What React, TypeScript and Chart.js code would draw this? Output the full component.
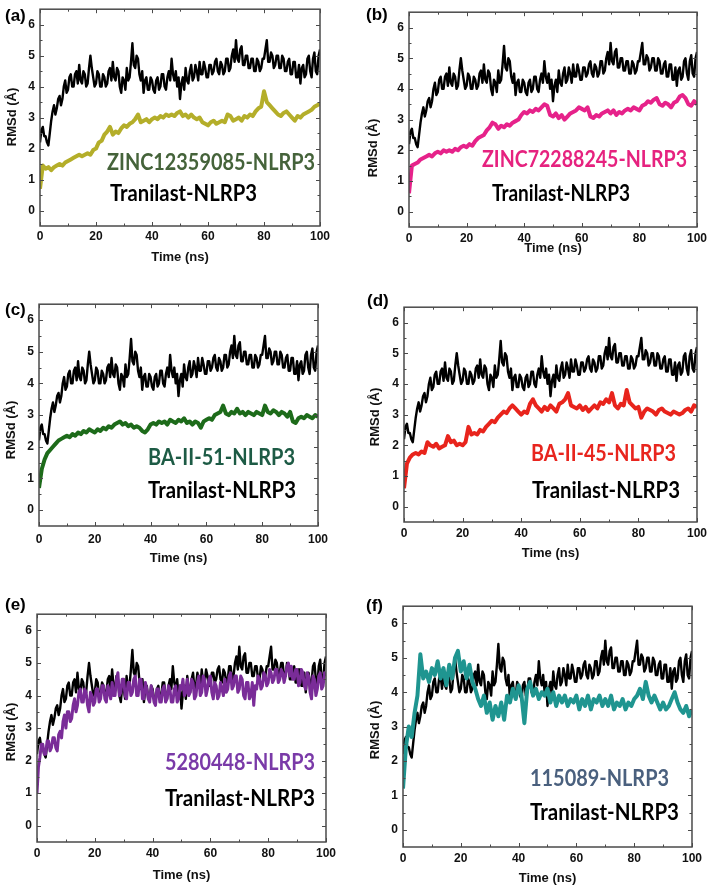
import React, { useEffect, useRef } from "react";
import { Chart, registerables } from "chart.js";
Chart.register(...registerables);

// Time axes (ns)
const TIME = Array.from({ length: 101 }, (_, i) => i);
const TIME_FINE = Array.from({ length: 201 }, (_, i) => i / 2);
const X_TICKS = [0, 20, 40, 60, 80, 100];
const Y_TICKS = [0, 1, 2, 3, 4, 5, 6];

// Tranilast-NLRP3, sampled every 0.5 ns
const TRANILAST = [
  2.2, 2.6, 2.7, 2.4, 2.4, 2.2, 2.1, 2.5, 2.9, 3.2,
  3.4, 3.1, 3.3, 3.6, 3.7, 3.4, 3.6, 4.0, 4.2, 3.8,
  3.9, 4.3, 4.4, 4.0, 4.0, 4.4, 4.5, 4.1, 4.7, 4.2,
  4.1, 4.5, 4.4, 4.0, 4.1, 4.6, 5.0, 4.6, 4.3, 4.0,
  4.1, 4.5, 4.4, 4.0, 4.0, 4.4, 4.3, 4.0, 4.1, 4.5,
  4.6, 4.2, 4.8, 4.3, 4.2, 4.6, 4.5, 4.0, 3.8, 4.3,
  4.2, 3.9, 4.6, 4.2, 4.3, 4.8, 5.4, 4.7, 4.6, 5.0,
  4.9, 4.4, 4.2, 4.5, 3.8, 4.2, 4.3, 3.9, 3.9, 4.3,
  4.2, 3.9, 3.8, 4.2, 4.3, 3.9, 4.0, 4.4, 4.4, 4.0,
  3.9, 4.3, 4.5, 4.2, 4.9, 4.4, 4.2, 4.5, 4.0, 4.3,
  3.6, 4.1, 4.3, 3.9, 4.6, 4.2, 4.1, 4.5, 4.7, 4.2,
  4.3, 4.7, 4.5, 4.2, 4.8, 4.4, 4.4, 4.8, 4.6, 4.3,
  4.3, 4.7, 4.7, 4.4, 4.5, 4.8, 4.9, 4.5, 4.4, 4.8,
  4.7, 4.4, 4.5, 4.9, 4.9, 4.5, 4.6, 5.0, 5.2, 4.8,
  5.5, 4.9, 4.8, 5.2, 5.3, 4.7, 4.7, 5.0, 5.0, 4.6,
  4.6, 4.9, 4.9, 4.5, 4.5, 4.9, 4.8, 4.5, 4.6, 4.9,
  4.9, 5.2, 5.5, 4.8, 4.8, 5.1, 5.0, 4.6, 4.7, 5.0,
  5.0, 4.6, 4.6, 5.0, 4.9, 4.5, 4.5, 4.8, 4.9, 4.4,
  4.4, 4.8, 4.8, 4.3, 4.3, 4.7, 4.1, 4.6, 4.7, 4.3,
  4.4, 4.9, 5.0, 4.5, 4.3, 4.9, 5.1, 4.5, 4.4, 5.0,
  5.2,
];

const ZINC12359085 = [
  0.7, 1.45, 1.35, 1.4, 1.3, 1.4, 1.45, 1.5, 1.45, 1.55,
  1.6, 1.65, 1.7, 1.75, 1.8, 1.75, 1.8, 1.85, 1.8, 1.95,
  2.0, 2.2, 2.25, 2.45, 2.55, 2.7, 2.45, 2.55, 2.5, 2.65,
  2.75, 2.7, 2.8, 2.85, 2.95, 3.1, 2.85, 2.9, 2.95, 2.85,
  2.95, 3.0, 2.95, 3.05, 3.0, 3.1, 3.05, 3.1, 3.05, 3.15,
  3.2, 3.05, 3.1, 3.0, 3.1, 3.0, 2.95, 3.0, 2.85, 2.8,
  2.75, 2.85, 2.9, 2.8, 2.85, 2.9, 2.85, 3.1, 3.05, 2.9,
  2.95, 3.0, 2.9, 3.05, 3.0, 3.1, 3.05, 3.2, 3.3, 3.35,
  3.85, 3.5, 3.4, 3.3, 3.2, 3.1, 3.05, 3.15, 3.2, 3.1,
  3.0, 2.9, 3.05, 3.0, 3.1, 3.15, 3.2, 3.25, 3.35, 3.4,
  3.45,
];

const ZINC72288245 = [
  0.6, 1.5, 1.55, 1.6, 1.7, 1.75, 1.8, 1.85, 1.8, 1.9,
  1.95, 1.9, 2.0, 1.95, 2.0, 1.95, 2.05, 2.0, 2.1, 2.15,
  2.1, 2.2, 2.15, 2.3, 2.4, 2.45, 2.5, 2.65, 2.75, 2.9,
  2.85, 2.7, 2.8, 2.75, 2.85, 2.8, 2.9, 2.95, 3.0, 3.15,
  3.25, 3.2, 3.3, 3.25, 3.35, 3.3, 3.4, 3.5, 3.45, 3.15,
  3.1, 3.2, 3.05, 3.15, 3.0, 3.1, 3.2, 3.25, 3.3, 3.4,
  3.35, 3.3, 3.4, 3.1, 3.05, 3.15, 3.1, 3.2, 3.25, 3.3,
  3.2, 3.3, 3.15, 3.25, 3.2, 3.3, 3.35, 3.3, 3.4, 3.35,
  3.3, 3.45, 3.5, 3.6, 3.55, 3.65, 3.7, 3.5, 3.45, 3.55,
  3.5, 3.4, 3.55, 3.6, 3.75, 3.8, 3.7, 3.5, 3.45, 3.6,
  3.5,
];

const BA_II_51 = [
  0.7, 1.3, 1.6, 1.8, 1.9, 2.0, 2.1, 2.2, 2.25, 2.3,
  2.35, 2.3, 2.4, 2.35, 2.45, 2.4, 2.5, 2.45, 2.55, 2.5,
  2.45, 2.55, 2.5, 2.6, 2.55, 2.65, 2.6, 2.7, 2.75, 2.8,
  2.7, 2.75, 2.65, 2.7, 2.6, 2.65, 2.6, 2.5, 2.45, 2.55,
  2.7, 2.75, 2.7, 2.8, 2.75, 2.8, 2.7, 2.85, 2.8, 2.75,
  2.85, 2.8, 2.9, 2.75, 2.8, 2.7, 2.8, 2.75, 2.6, 2.8,
  2.85, 2.9, 2.85, 3.0, 3.05, 3.1, 3.3, 3.05, 3.0, 3.1,
  3.05, 3.2, 3.05, 3.1, 3.0, 3.1, 3.05, 3.0, 3.1, 3.05,
  3.0, 3.3, 3.1, 3.05, 3.15, 3.1, 3.0, 3.1, 3.05, 2.95,
  3.1, 2.8, 2.75, 2.9, 2.95, 2.9, 3.0, 2.95, 2.9, 3.0,
  2.95,
];

const BA_II_45 = [
  0.6, 1.4, 1.6, 1.7, 1.75, 1.7, 1.8, 1.75, 2.1, 2.0,
  1.95, 2.05, 1.9, 1.95, 2.0, 2.3, 2.1, 2.15, 2.0, 2.05,
  2.0, 2.1, 2.6, 2.35, 2.4, 2.35, 2.5, 2.45, 2.6, 2.7,
  2.8, 2.75, 2.9, 3.0, 3.1, 3.05, 3.2, 3.3, 3.2, 3.1,
  3.0, 3.1, 3.05, 3.35, 3.5, 3.3, 3.2, 3.1, 3.25, 3.15,
  3.3, 3.2, 3.1, 3.35, 3.4, 3.5, 3.7, 3.3, 3.25, 3.2,
  3.3, 3.15, 3.25, 3.1, 3.2, 3.3, 3.2, 3.4, 3.35, 3.5,
  3.4, 3.7, 3.3, 3.2, 3.35, 3.3, 3.8, 3.4, 3.3, 3.2,
  3.25, 2.9, 3.1, 3.2, 3.15, 3.1, 3.0, 3.15, 3.2, 3.1,
  3.05, 3.0, 3.1, 3.05, 3.0, 3.05, 3.15, 3.2, 3.1, 3.3,
  3.25,
];

// 5280448-NLRP3, sampled every 0.5 ns
const CID_5280448 = [
  1.0, 1.8, 2.1, 2.5, 2.5, 2.2, 2.2, 2.6, 2.6, 2.3,
  2.4, 2.7, 2.7, 2.4, 2.3, 2.8, 2.9, 2.7, 3.2, 3.4,
  3.0, 3.5, 3.5, 3.2, 3.3, 3.7, 3.9, 3.5, 3.7, 4.1,
  4.2, 3.8, 3.8, 4.2, 4.1, 3.7, 3.5, 4.1, 4.0, 3.7,
  3.8, 4.2, 4.2, 3.8, 3.9, 4.3, 4.3, 3.9, 3.8, 4.3,
  4.1, 3.9, 4.4, 4.0, 4.0, 4.5, 4.7, 4.0, 4.1, 4.5,
  4.5, 4.0, 3.9, 4.4, 4.4, 4.0, 4.1, 4.5, 4.6, 4.0,
  4.0, 4.5, 4.5, 3.9, 3.9, 4.4, 4.2, 3.9, 3.8, 4.3,
  4.1, 3.8, 3.7, 4.2, 4.2, 3.8, 3.8, 4.2, 4.3, 3.8,
  3.9, 4.3, 4.2, 3.8, 3.8, 4.2, 4.3, 3.8, 3.9, 4.3,
  4.2, 4.5, 4.0, 4.1, 4.5, 4.0, 4.1, 4.5, 4.4, 3.9,
  4.0, 4.4, 4.6, 4.0, 4.1, 4.6, 4.5, 4.0, 4.2, 4.5,
  4.6, 4.1, 3.9, 4.4, 4.3, 3.9, 4.0, 4.4, 4.2, 4.0,
  4.5, 4.1, 4.2, 4.6, 4.7, 4.2, 4.3, 4.6, 4.6, 4.1,
  4.2, 4.6, 4.5, 4.0, 3.9, 4.4, 4.4, 3.9, 4.0, 4.4,
  3.7, 4.3, 4.2, 4.6, 4.5, 4.2, 4.3, 4.7, 4.6, 4.3,
  4.4, 4.8, 4.7, 4.4, 4.5, 4.8, 4.8, 4.4, 4.5, 4.8,
  4.7, 4.4, 4.6, 4.9, 5.0, 4.6, 4.9, 4.5, 4.5, 4.8,
  4.8, 4.3, 4.4, 4.8, 4.7, 4.3, 4.2, 4.7, 4.6, 4.1,
  3.9, 4.6, 4.5, 4.0, 4.2, 4.6, 4.7, 4.2, 4.3, 4.7,
  4.6,
];

const CID_115089 = [
  1.2, 2.4, 3.0, 2.7, 3.4, 3.9, 5.1, 4.4, 4.6, 4.3,
  4.7, 4.5, 4.9, 4.4, 4.7, 4.2, 4.8, 4.4, 5.0, 5.2,
  4.6, 4.9, 4.4, 4.8, 4.3, 4.1, 3.8, 3.6, 3.9, 3.4,
  3.7, 3.2, 3.6, 3.3, 3.7, 3.2, 3.9, 3.7, 4.1, 3.8,
  4.2, 3.9, 3.1, 4.1, 4.3, 3.9, 4.1, 3.8, 4.0, 3.9,
  4.1, 3.7, 4.0, 3.6, 3.9, 3.7, 3.9, 3.6, 3.8, 3.7,
  3.9, 3.5, 3.8, 3.6, 3.9, 3.5, 3.8, 3.7, 3.9, 3.6,
  3.8, 3.6, 3.9, 3.5, 3.7, 3.6, 3.8, 3.5, 3.7, 3.6,
  3.8, 3.9, 4.1, 3.8, 4.3, 3.9, 3.7, 3.9, 3.7, 3.5,
  3.7, 3.5, 3.6, 3.8, 4.0, 3.7, 3.5, 3.4, 3.6, 3.3,
  3.5,
];

const REF_NAME = "Tranilast-NLRP3";
const LIGAND_NAMES = [
  "ZINC12359085-NLRP3",
  "ZINC72288245-NLRP3",
  "BA-II-51-NLRP3",
  "BA-II-45-NLRP3",
  "5280448-NLRP3",
  "115089-NLRP3",
];
const LIGAND_VALUES = [ZINC12359085, ZINC72288245, BA_II_51, BA_II_45, CID_5280448, CID_115089];
const LIGAND_TIMES = [TIME, TIME, TIME, TIME, TIME_FINE, TIME];
const PANEL_TAGS = ["(a)", "(b)", "(c)", "(d)", "(e)", "(f)"];
const X_TITLE = "Time (ns)";
const Y_TITLE = "RMSd (Å)";

type Layout = {
  L: number; T: number; R: number; B: number;
  lineColor: string; lineWidth: number; textColor: string;
  tag: [number, number];
  ytitle: [number, number];
  xTitleDy: number; tickPad: number;
  ann: [number, number, number]; // colored label: left, centerY, width
  ref: [number, number, number]; // tranilast label
};

const LAYOUTS: Layout[] = [
  { L: 40, T: 5, R: 320, B: 226, lineColor: "#b4ae2a", lineWidth: 4, textColor: "#45633a", tag: [5, 16], ytitle: [12, 117], xTitleDy: 31, tickPad: 3, ann: [107, 162, 208], ref: [110, 193, 147] },
  { L: 409, T: 8, R: 697, B: 227, lineColor: "#e6228a", lineWidth: 4, textColor: "#e6227f", tag: [366, 15], ytitle: [373, 148], xTitleDy: 21, tickPad: 4, ann: [482, 159, 205], ref: [492, 193, 138] },
  { L: 39, T: 300, R: 320, B: 526, lineColor: "#1d6b1a", lineWidth: 4, textColor: "#1d5b45", tag: [5, 310], ytitle: [11, 430], xTitleDy: 32, tickPad: 6, ann: [148, 457, 147], ref: [148, 490, 148] },
  { L: 404, T: 303, R: 697, B: 522, lineColor: "#e8241c", lineWidth: 4, textColor: "#e8251e", tag: [367, 301], ytitle: [375, 417], xTitleDy: 31, tickPad: 4, ann: [531, 453, 145], ref: [532, 490, 148] },
  { L: 37, T: 610, R: 326, B: 842, lineColor: "#7a2c98", lineWidth: 3, textColor: "#7a3aa8", tag: [5, 605], ytitle: [11, 732], xTitleDy: 33, tickPad: 4, ann: [165, 762, 150], ref: [165, 798, 150] },
  { L: 403, T: 602, R: 692, B: 847, lineColor: "#1f9590", lineWidth: 4, textColor: "#4a607e", tag: [366, 606], ytitle: [375, 730], xTitleDy: 31, tickPad: 4, ann: [530, 778, 139], ref: [530, 812, 149] },
];

const PAD_LEFT = 45;
const PAD_TOP = 8;
const PAD_RIGHT = 14;
const PAD_BOTTOM = 45;
const AXIS_FONT = "'Liberation Sans', Arial, sans-serif";
const LABEL_FONT = "Lato, 'Open Sans', sans-serif";

function Panel({ idx }: { idx: number }) {
  const ref = useRef<HTMLCanvasElement>(null);
  const lay = LAYOUTS[idx];
  const cw = lay.R - lay.L + PAD_LEFT + PAD_RIGHT;
  const ch = lay.B - lay.T + PAD_TOP + PAD_BOTTOM;
  const ox = lay.L - PAD_LEFT;
  const oy = lay.T - PAD_TOP;

  useEffect(() => {
    if (!ref.current) return;
    const values = LIGAND_VALUES[idx];
    const times = LIGAND_TIMES[idx];
    const decor = {
      id: "decor" + idx,
      afterDatasetsDraw(chart: any) {
        const ctx = chart.ctx as CanvasRenderingContext2D;
        const a = chart.chartArea;
        const xs = chart.scales.x;
        const ys = chart.scales.y;
        ctx.save();
        ctx.strokeStyle = "#4a4a4a";
        ctx.lineWidth = 1.5;
        ctx.strokeRect(a.left, a.top, a.right - a.left, a.bottom - a.top);
        ctx.lineWidth = 1;
        for (let v = 0; v <= 100; v += 10) {
          const px = Math.round(xs.getPixelForValue(v)) + 0.5;
          const len = v % 20 === 0 ? 4 : 2.5;
          ctx.beginPath();
          ctx.moveTo(px, a.bottom); ctx.lineTo(px, a.bottom - len);
          ctx.moveTo(px, a.top); ctx.lineTo(px, a.top + len);
          ctx.stroke();
        }
        for (let v = 0; v <= 6; v += 0.5) {
          const py = Math.round(ys.getPixelForValue(v)) + 0.5;
          const len = Number.isInteger(v) ? 4 : 2.5;
          ctx.beginPath();
          ctx.moveTo(a.left, py); ctx.lineTo(a.left + len, py);
          ctx.moveTo(a.right, py); ctx.lineTo(a.right - len, py);
          ctx.stroke();
        }
        ctx.fillStyle = "#111";
        ctx.font = `bold 13px ${AXIS_FONT}`;
        ctx.textAlign = "center";
        ctx.textBaseline = "middle";
        ctx.fillText(X_TITLE, (a.left + a.right) / 2, a.bottom + lay.xTitleDy);
        ctx.save();
        ctx.translate(lay.ytitle[0] - ox, lay.ytitle[1] - oy);
        ctx.rotate(-Math.PI / 2);
        ctx.fillText(Y_TITLE, 0, 0);
        ctx.restore();
        const drawLabel = (text: string, spec: [number, number, number], color: string) => {
          ctx.save();
          ctx.font = `bold 23px ${LABEL_FONT}`;
          ctx.textAlign = "left";
          ctx.textBaseline = "alphabetic";
          const w = ctx.measureText(text).width;
          ctx.translate(spec[0] - ox, spec[1] - oy + 8);
          ctx.scale(spec[2] / w, 1);
          ctx.fillStyle = color;
          ctx.fillText(text, 0, 0);
          ctx.restore();
        };
        drawLabel(LIGAND_NAMES[idx], lay.ann, lay.textColor);
        drawLabel(REF_NAME, lay.ref, "#000");
        ctx.restore();
      },
    };

    const chart = new Chart(ref.current, {
      type: "line",
      data: {
        datasets: [
          {
            label: LIGAND_NAMES[idx],
            data: times.map((t, i) => ({ x: t, y: values[i] })),
            borderColor: lay.lineColor,
            borderWidth: lay.lineWidth,
            borderJoinStyle: "round",
            pointRadius: 0,
            tension: 0,
            order: 0,
          },
          {
            label: REF_NAME,
            data: TIME_FINE.map((t, i) => ({ x: t, y: TRANILAST[i] })),
            borderColor: "#000",
            borderWidth: 2.4,
            borderJoinStyle: "round",
            pointRadius: 0,
            tension: 0,
            order: 1,
          },
        ],
      },
      options: {
        responsive: false,
        animation: false,
        events: [],
        layout: { padding: { top: PAD_TOP, right: PAD_RIGHT, left: 0, bottom: 0 } },
        plugins: { legend: { display: false }, tooltip: { enabled: false } },
        scales: {
          x: {
            type: "linear",
            min: 0,
            max: 100,
            afterBuildTicks: (s: any) => { s.ticks = X_TICKS.map((v) => ({ value: v })); },
            afterFit: (s: any) => { s.height = PAD_BOTTOM; },
            grid: { display: false, drawTicks: false },
            border: { display: false },
            ticks: {
              color: "#111",
              font: { family: AXIS_FONT, weight: "bold", size: 12 },
              padding: lay.tickPad,
              maxRotation: 0,
              autoSkip: false,
            },
          },
          y: {
            type: "linear",
            min: -0.5,
            max: 6.5,
            afterBuildTicks: (s: any) => { s.ticks = Y_TICKS.map((v) => ({ value: v })); },
            afterFit: (s: any) => { s.width = PAD_LEFT; },
            grid: { display: false, drawTicks: false },
            border: { display: false },
            ticks: {
              color: "#111",
              font: { family: AXIS_FONT, weight: "bold", size: 12 },
              padding: 5,
              autoSkip: false,
            },
          },
        },
      } as any,
      plugins: [decor],
    });
    return () => chart.destroy();
  }, [idx]);

  return (
    <>
      <canvas
        ref={ref}
        width={cw}
        height={ch}
        style={{ position: "absolute", left: ox, top: oy, width: cw, height: ch }}
      />
      <div
        style={{
          position: "absolute",
          left: lay.tag[0],
          top: lay.tag[1] - 10,
          font: `bold 17px ${AXIS_FONT}`,
          lineHeight: "20px",
          color: "#000",
        }}
      >
        {PANEL_TAGS[idx]}
      </div>
    </>
  );
}

export default function App() {
  return (
    <div
      style={{
        position: "absolute",
        left: 0,
        top: 0,
        width: 708,
        height: 892,
        overflow: "hidden",
        background: "#fff",
      }}
    >
      {LAYOUTS.map((_, i) => (
        <Panel key={i} idx={i} />
      ))}
    </div>
  );
}
